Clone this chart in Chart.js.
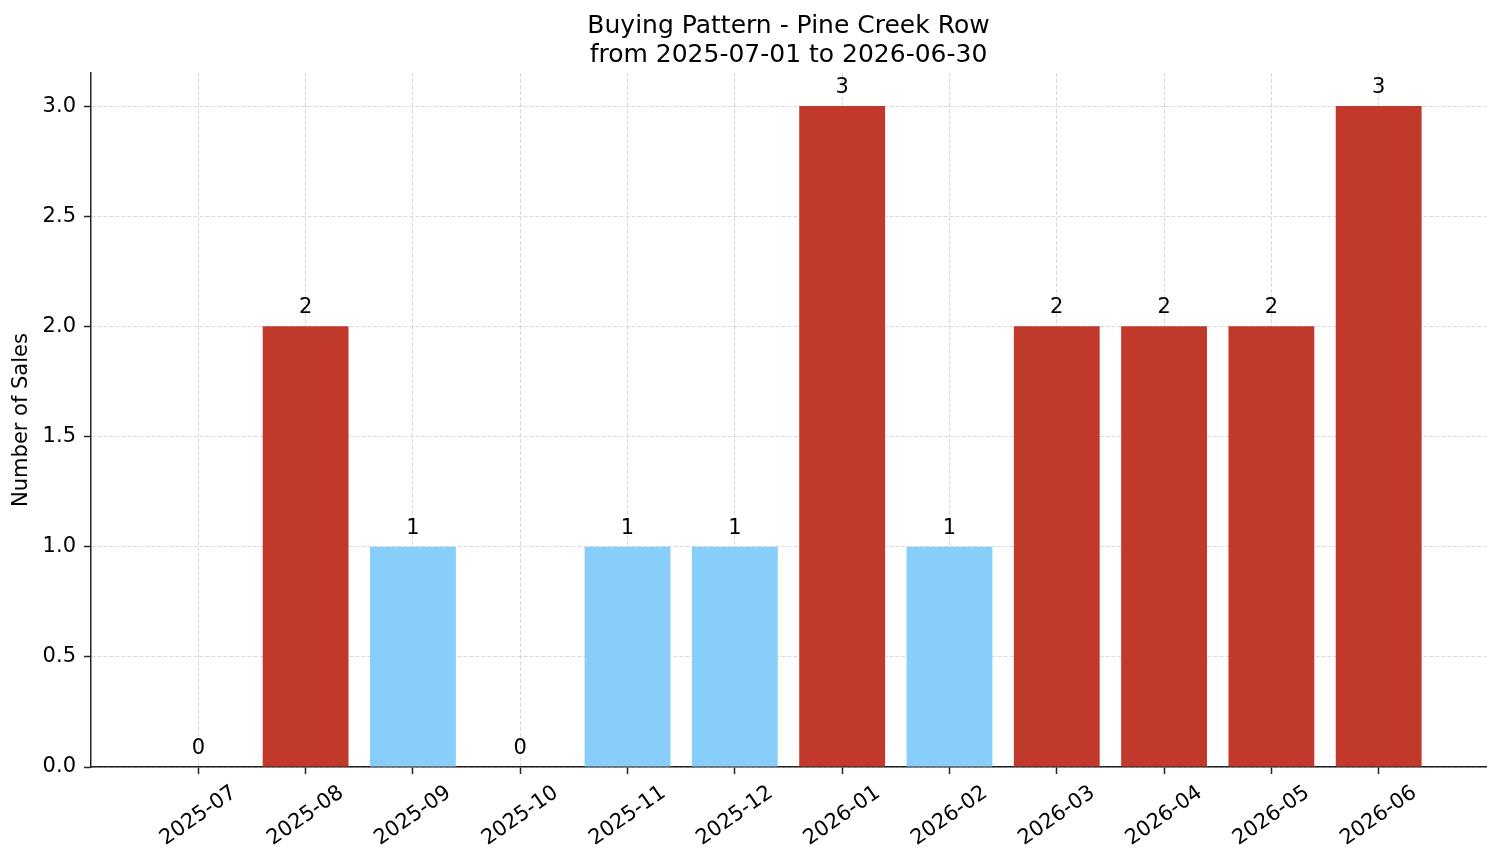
<!DOCTYPE html>
<html>
<head>
<meta charset="utf-8">
<script src="https://cdn.jsdelivr.net/npm/chart.js@4.4.1/dist/chart.umd.min.js"></script>
<style>
  html, body { margin: 0; padding: 0; background: #fff; }
  #wrap { width: 1501px; height: 863px; }
</style>
</head>
<body>
<div id="wrap"><canvas id="myChart"></canvas></div>
<script>
const months = ['2025-07', '2025-08', '2025-09', '2025-10', '2025-11', '2025-12',
                '2026-01', '2026-02', '2026-03', '2026-04', '2026-05', '2026-06'];
const sales = [0, 2, 1, 0, 1, 1, 3, 1, 2, 2, 2, 3];
const yTicks = [0, 0.5, 1, 1.5, 2, 2.5, 3];

const RED = '#c0392b';
const BLUE = '#87cefa';
const FONT = 'DejaVu Sans';
const GRID = 'rgba(170, 170, 170, 0.45)';

// bars with 2+ sales are red, others light blue
const barColors = sales.map(v => v >= 2 ? RED : BLUE);

// value labels above each bar + rotated month labels (centered under ticks, like matplotlib)
const labelsPlugin = {
    id: 'labelsPlugin',
    afterDraw(chart) {
        const { ctx, scales: { x, y } } = chart;
        ctx.save();
        ctx.fillStyle = '#000';
        ctx.font = `21px "${FONT}"`;
        ctx.textAlign = 'center';
        ctx.textBaseline = 'alphabetic';
        sales.forEach((v, i) => {
            ctx.fillText(String(v), x.getPixelForValue(i), y.getPixelForValue(v) - 13);
        });

        const rot = 35 * Math.PI / 180;
        const top = chart.chartArea.bottom + 14;
        const h = 24;
        months.forEach((m, i) => {
            const w = ctx.measureText(m).width;
            const boxH = w * Math.sin(rot) + h * Math.cos(rot);
            ctx.save();
            ctx.translate(x.getPixelForValue(i), top + boxH / 2);
            ctx.rotate(-rot);
            ctx.textBaseline = 'middle';
            ctx.fillText(m, 0, 0);
            ctx.restore();
        });
        ctx.restore();
    }
};

new Chart(document.getElementById('myChart'), {
    type: 'bar',
    data: {
        datasets: [{
            data: sales.map((v, i) => ({ x: i, y: v })),
            backgroundColor: barColors,
            borderWidth: 0,
            barPercentage: 1,
            categoryPercentage: 0.8
        }]
    },
    options: {
        responsive: true,
        maintainAspectRatio: false,
        animation: false,
        layout: { padding: { left: 0, right: 15, top: 0, bottom: 0 } },
        plugins: {
            legend: { display: false },
            tooltip: { enabled: false },
            title: {
                display: true,
                fullSize: false,
                text: ['Buying Pattern - Pine Creek Row', 'from 2025-07-01 to 2026-06-30'],
                color: '#000',
                font: { family: FONT, size: 25, weight: 'normal', lineHeight: 1.15 },
                padding: { top: 12, bottom: 3.5 }
            }
        },
        scales: {
            x: {
                type: 'linear',
                min: -1,
                max: 12,
                offset: false,
                z: 1,
                afterBuildTicks: s => { s.ticks = months.map((m, i) => ({ value: i })); },
                afterFit: s => { s.height = 96; },
                ticks: { display: false },
                grid: {
                    offset: false,
                    color: GRID,
                    lineWidth: 1,
                    drawTicks: true,
                    tickLength: 7,
                    tickColor: '#222',
                    tickWidth: 1.5
                },
                border: { display: true, color: '#222', width: 1.5, dash: [4, 2] }
            },
            y: {
                min: 0,
                max: 3.15,
                z: 1,
                afterBuildTicks: s => { s.ticks = yTicks.map(v => ({ value: v })); },
                afterFit: s => { s.width = 91; },
                ticks: {
                    color: '#000',
                    padding: 8,
                    font: { family: FONT, size: 21 },
                    callback: v => Number(v).toFixed(1)
                },
                grid: {
                    color: GRID,
                    lineWidth: 1,
                    drawTicks: true,
                    tickLength: 7,
                    tickColor: '#222',
                    tickWidth: 1.5
                },
                border: { display: true, color: '#222', width: 1.5, dash: [4, 2] },
                title: {
                    display: true,
                    text: 'Number of Sales',
                    color: '#000',
                    font: { family: FONT, size: 21 },
                    padding: { top: 9, bottom: 0 }
                }
            }
        }
    },
    plugins: [labelsPlugin]
});
</script>
</body>
</html>
